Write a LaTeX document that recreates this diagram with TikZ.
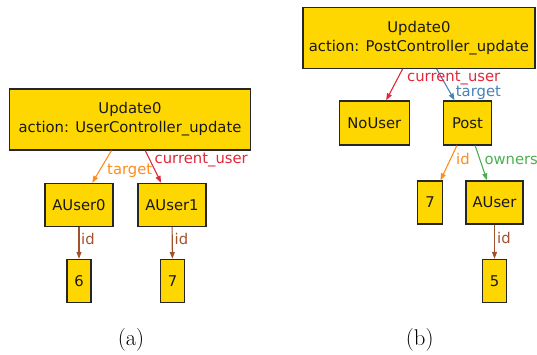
\documentclass[tikz,border=0pt]{standalone}
\usepackage{fontspec}
\newfontfamily\gv{DejaVu Sans}
\usetikzlibrary{arrows.meta}
\definecolor{gold}{HTML}{FFD700}
\definecolor{eorange}{HTML}{FF8C1A}
\definecolor{ered}{HTML}{E3263A}
\definecolor{eblue}{HTML}{4682B4}
\definecolor{egreen}{HTML}{4CAF50}
\definecolor{ebrown}{HTML}{A0522D}
\begin{document}
\begin{tikzpicture}[x=1pt,y=-1pt,
  box/.style={draw=black!85,line width=1.3pt,fill=gold,inner sep=0pt,
    font=\gv\fontsize{14.8}{19}\selectfont,align=center,text=black!90},
  edge/.style={line width=1.1pt,-{Triangle[length=7pt,width=5pt]}},
  lab/.style={anchor=base west,inner sep=0pt,font=\gv\fontsize{14.8}{18}\selectfont},
  captext/.style={inner sep=0pt,anchor=base,font=\fontsize{22.7}{27}\selectfont}]
\useasboundingbox (0,0) rectangle (537,354);
% (a)
\node[box,minimum width=241pt,minimum height=61pt] (ua) at (130,119.5) {Update0\\action: UserController\_update};
\node[box,minimum width=68pt,minimum height=43pt] (au0) at (79,205) {AUser0};
\node[box,minimum width=68pt,minimum height=43pt] (au1) at (172,205) {AUser1};
\node[box,minimum width=24pt,minimum height=43pt] (six) at (79,281) {6};
\node[box,minimum width=24pt,minimum height=43pt] (sevena) at (172.5,281) {7};
\draw[edge,eorange] (ua) -- (au0);
\draw[edge,ered] (ua) -- (au1);
\draw[edge,ebrown] (au0) -- (six);
\draw[edge,ebrown] (au1) -- (sevena);
\node[lab,text=eorange] (la1) at (107,174) {target};
\node[lab,text=ered] (la2) at (154.5,163) {current\_user};
\node[lab,text=ebrown] (la3) at (81,244) {id};
\node[lab,text=ebrown] (la4) at (174.5,244) {id};
% (b)
\node[box,minimum width=232pt,minimum height=61pt] (ub) at (418.9,37.8) {Update0\\action: PostController\_update};
\node[box,minimum width=70pt,minimum height=44pt] (nou) at (374.3,123) {NoUser};
\node[box,minimum width=48pt,minimum height=44pt] (post) at (467.5,123) {Post};
\node[box,minimum width=24.6pt,minimum height=43pt] (sevenb) at (430,202.5) {7};
\node[box,minimum width=57pt,minimum height=43pt] (aus) at (494.5,202.5) {AUser};
\node[box,minimum width=24pt,minimum height=43pt] (five) at (494.5,281) {5};
\draw[edge,ered] (ub) -- (nou);
\draw[edge,eblue] (ub) -- (post);
\draw[edge,eorange] (post) -- (sevenb);
\draw[edge,egreen] (post) -- (aus);
\draw[edge,ebrown] (aus) -- (five);
\node[lab,text=ered] (lb1) at (407,81) {current\_user};
\node[lab,text=eblue] (lb2) at (455.7,96) {target};
\node[lab,text=eorange] (lb3) at (456,164) {id};
\node[lab,text=egreen] (lb4) at (484.3,164) {owners};
\node[lab,text=ebrown] (lb5) at (497,243) {id};
% captions
\node[captext] (capa) at (131,345) {(a)};
\node[captext] (capb) at (419.7,345) {(b)};
\end{tikzpicture}
\end{document}
